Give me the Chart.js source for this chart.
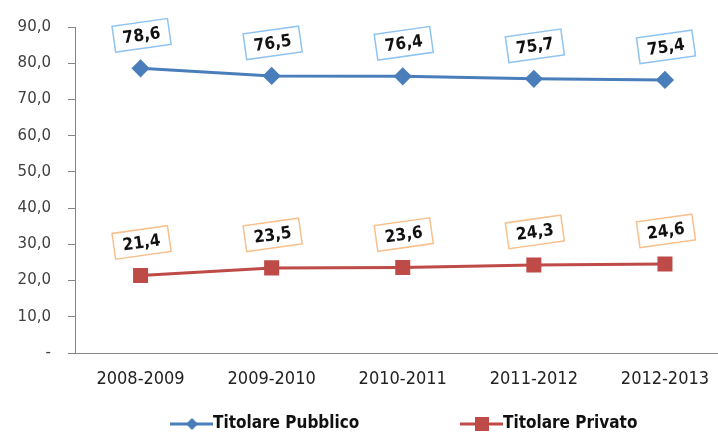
<!DOCTYPE html>
<html>
<head>
<meta charset="utf-8">
<script src="https://cdn.jsdelivr.net/npm/chart.js@4.4.1/dist/chart.umd.min.js"></script>
<style>
  html, body { margin: 0; padding: 0; background: #fff; overflow: hidden; }
  .wrap { position: relative; width: 742px; height: 435px; }
  canvas { display: block; }
</style>
</head>
<body>
<div class="wrap"><canvas id="chart" width="742" height="435" style="width:742px;height:435px"></canvas></div>
<script>
const categories = ['2008-2009', '2009-2010', '2010-2011', '2011-2012', '2012-2013'];
const pubblico = [78.6, 76.5, 76.4, 75.7, 75.4];
const privato = [21.4, 23.5, 23.6, 24.3, 24.6];
const seriesNames = ['Titolare Pubblico', 'Titolare Privato'];
const yTicks = [0, 10, 20, 30, 40, 50, 60, 70, 80, 90];

const FONT = '"Liberation Sans Narrow", "DejaVu Sans Condensed", "Liberation Sans", sans-serif';
const BLUE = '#4a7ebb';
const RED = '#be4b48';

const fmt = (v) => v === 0 ? '-' : v.toFixed(1).replace('.', ',');

// rotated value boxes above each point
const boxLabels = {
  id: 'boxLabels',
  afterDatasetsDraw(chart) {
    const ctx = chart.ctx;
    const borders = ['#8ec3f2', '#f7c08c'];
    chart.data.datasets.forEach((ds, i) => {
      chart.getDatasetMeta(i).data.forEach((pt, j) => {
        ctx.save();
        ctx.translate(pt.x + 1, pt.y - 33);
        ctx.rotate(-8 * Math.PI / 180);
        ctx.fillStyle = '#fff';
        ctx.strokeStyle = borders[i];
        ctx.lineWidth = 1.5;
        ctx.fillRect(-28, -13, 56, 26);
        ctx.strokeRect(-28, -13, 56, 26);
        ctx.fillStyle = '#111';
        ctx.font = 'bold 17px "DejaVu Sans Condensed", "DejaVu Sans", sans-serif';
        ctx.textAlign = 'center';
        ctx.textBaseline = 'middle';
        ctx.fillText(fmt(ds.data[j]), 0, 1);
        ctx.restore();
      });
    });
  }
};

const bottomLegend = {
  id: 'bottomLegend',
  afterDraw(chart) {
    const ctx = chart.ctx;
    const items = [
      { x: 170, color: BLUE, style: 'diamond' },
      { x: 460, color: RED, style: 'square' }
    ];
    const y = 424;
    items.forEach((it, i) => {
      ctx.save();
      ctx.strokeStyle = it.color;
      ctx.lineWidth = 3;
      ctx.beginPath();
      ctx.moveTo(it.x, y);
      ctx.lineTo(it.x + 43, y);
      ctx.stroke();
      ctx.fillStyle = it.color;
      const cx = it.x + 22;
      if (it.style === 'diamond') {
        ctx.beginPath();
        ctx.moveTo(cx, y - 6);
        ctx.lineTo(cx + 6, y);
        ctx.lineTo(cx, y + 6);
        ctx.lineTo(cx - 6, y);
        ctx.closePath();
        ctx.fill();
      } else {
        ctx.fillRect(cx - 7, y - 7, 14, 14);
      }
      ctx.fillStyle = '#111';
      ctx.font = 'bold 17px ' + FONT;
      ctx.textAlign = 'left';
      ctx.textBaseline = 'middle';
      ctx.fillText(seriesNames[i], it.x + 43, y);
      ctx.restore();
    });
  }
};

new Chart(document.getElementById('chart'), {
  type: 'line',
  data: {
    labels: categories,
    datasets: [
      {
        label: seriesNames[0],
        data: pubblico,
        borderColor: BLUE,
        backgroundColor: BLUE,
        borderWidth: 3,
        pointStyle: 'rectRot',
        pointRadius: 7,
        pointHoverRadius: 7,
        tension: 0
      },
      {
        label: seriesNames[1],
        data: privato,
        borderColor: RED,
        backgroundColor: RED,
        borderWidth: 3,
        pointStyle: 'rect',
        pointRadius: 8.5,
        pointHoverRadius: 8.5,
        tension: 0
      }
    ]
  },
  options: {
    responsive: false,
    animation: false,
    layout: { padding: { top: 27, bottom: 38, left: 0, right: 0 } },
    plugins: {
      legend: { display: false },
      tooltip: { enabled: false }
    },
    scales: {
      x: {
        offset: true,
        grid: { display: false, drawTicks: false },
        border: { color: '#868686', width: 1 },
        ticks: { color: '#222', font: { family: FONT, size: 18 }, padding: 16 },
        afterFit: (scale) => { scale.height = 44; }
      },
      y: {
        min: 0,
        max: 90,
        afterBuildTicks: (scale) => { scale.ticks = yTicks.map((v) => ({ value: v })); },
        grid: { drawOnChartArea: false, drawTicks: true, tickLength: 7, color: '#868686' },
        border: { color: '#868686', width: 1 },
        ticks: {
          color: '#404040',
          font: { family: '"DejaVu Sans", sans-serif', size: 15 },
          padding: 17,
          callback: (v) => fmt(v)
        },
        afterFit: (scale) => { scale.width = 75; }
      }
    }
  },
  plugins: [boxLabels, bottomLegend]
});
</script>
</body>
</html>
